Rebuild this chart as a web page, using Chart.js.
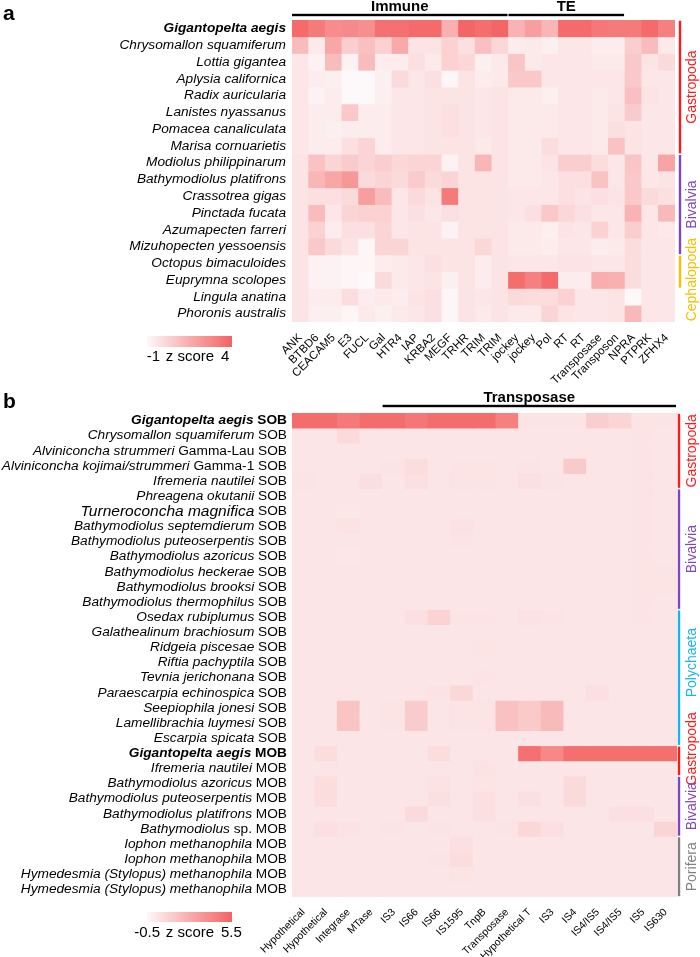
<!DOCTYPE html>
<html>
<head>
<meta charset="utf-8">
<script src="https://cdn.jsdelivr.net/npm/chart.js@4.4.1/dist/chart.umd.min.js"></script>
<style>
  html, body { margin: 0; padding: 0; background: #fff; }
  #wrap { position: relative; width: 700px; height: 957px; }
  canvas { position: absolute; left: 0; }
</style>
</head>
<body>
<div id="wrap">
  <canvas id="chartB" width="700" height="577" style="top:380px"></canvas>
  <canvas id="chartA" width="700" height="392" style="top:0"></canvas>
</div>
<script>
// ---------- panel a data ----------
const speciesA = [
  'Gigantopelta aegis', 'Chrysomallon squamiferum', 'Lottia gigantea', 'Aplysia californica',
  'Radix auricularia', 'Lanistes nyassanus', 'Pomacea canaliculata', 'Marisa cornuarietis',
  'Modiolus philippinarum', 'Bathymodiolus platifrons', 'Crassotrea gigas', 'Pinctada fucata',
  'Azumapecten farreri', 'Mizuhopecten yessoensis', 'Octopus bimaculoides', 'Euprymna scolopes',
  'Lingula anatina', 'Phoronis australis'
];
const genesA = [
  'ANK', 'BTBD6', 'CEACAM5', 'E3', 'FUCL', 'Gal', 'HTR4', 'IAP', 'KRBA2', 'MEGF', 'TRHR', 'TRIM', 'TRIM',
  'jockey', 'jockey', 'Pol', 'RT', 'RT', 'Transposase', 'Transposon', 'NPRA', 'PTPRK', 'ZFHX4'
];
const zRangeA = [-1, 4];
const zA = [
  [3.7, 3.2, 2.6, 2.7, 2.5, 3.5, 3.5, 3.7, 3.7, 1.4, 3.9, 3.6, 3.9, 1.3, 2.0, 1.2, 3.7, 3.7, 3.3, 3.2, 3.2, 3.7, 3.0],
  [1.0, -0.5, 1.7, 0.4, 0.9, 0.3, 1.6, -0.3, -0.3, 0.3, -0.2, 0.9, 0.1, -0.6, -0.5, -0.7, -0.4, -0.4, -0.6, -0.6, 0.4, 1.0, -0.5],
  [-0.4, -0.8, 1.0, -0.8, 1.0, -0.6, -0.6, -0.2, -0.5, 0.3, 0.1, -0.7, -0.5, 0.7, -0.5, -0.4, -0.4, -0.4, -0.5, -0.5, 0.6, -0.3, 0.0],
  [-0.4, -0.6, -0.7, -1.0, -1.0, -0.7, 0.0, -0.4, -0.2, -0.9, -0.3, -0.6, -0.5, 0.6, 0.6, -0.4, -0.4, -0.4, -0.4, -0.4, 0.6, -0.4, -0.4],
  [-0.4, -0.8, -0.6, -1.0, -1.0, -0.7, -0.4, -0.4, -0.3, -0.3, -0.3, -0.4, -0.3, -0.5, -0.5, -0.7, -0.4, -0.4, -0.5, -0.4, 0.9, -0.3, -0.4],
  [-0.4, -0.6, -0.6, 0.6, -0.6, -0.6, -0.4, -0.4, -0.3, -0.2, -0.3, -0.4, -0.3, -0.5, -0.5, -0.5, -0.4, -0.4, -0.5, -0.3, 0.5, -0.4, -0.4],
  [-0.4, -0.6, -0.7, -0.6, -0.6, -0.6, -0.4, -0.4, -0.3, -0.2, -0.3, -0.4, -0.3, -0.5, -0.5, -0.5, -0.4, -0.4, -0.5, -0.2, -0.3, -0.4, -0.4],
  [-0.4, -0.6, -0.6, -0.2, 0.2, -0.6, -0.4, -0.4, -0.3, -0.3, -0.3, -0.5, -0.3, -0.5, -0.5, -0.1, -0.4, -0.4, -0.5, 0.8, -0.3, -0.4, -0.4],
  [-0.3, 0.8, 0.2, 0.5, 0.2, 0.4, 0.1, 0.2, 0.2, -0.8, -0.3, 1.2, -0.3, -0.5, -0.5, -0.3, 0.4, 0.4, -0.1, -0.4, 0.7, -0.4, 1.8],
  [-0.3, 1.2, 1.7, 2.2, 0.0, 0.2, 0.0, 0.5, 0.0, 0.2, -0.3, -0.3, -0.3, -0.5, -0.5, -0.4, -0.2, -0.2, 0.8, -0.4, 0.6, -0.4, -0.3],
  [-0.3, -0.2, -0.2, 0.0, 2.0, 1.0, -0.4, 0.0, -0.3, 3.2, -0.3, -0.3, -0.3, -0.4, -0.4, -0.4, -0.2, -0.3, -0.2, -0.3, 0.6, 0.0, -0.2],
  [-0.3, 1.0, -0.4, 0.2, 0.3, 0.3, -0.4, -0.2, -0.4, -0.2, -0.3, -0.3, -0.3, -0.4, -0.2, 0.6, 0.1, -0.2, -0.4, -0.4, 1.3, -0.4, 1.1],
  [-0.3, 0.3, -0.6, -0.2, -0.2, 0.2, -0.4, -0.3, -0.3, -0.8, -0.3, -0.3, -0.3, -0.5, -0.5, -0.7, -0.3, -0.4, 0.3, -0.4, 0.4, -0.4, -0.5],
  [-0.3, 0.6, 0.0, -0.3, -0.9, 0.2, 0.2, -0.3, -0.3, -0.3, -0.3, 0.1, -0.3, -0.5, -0.5, -0.6, -0.4, -0.4, -0.6, -0.5, -0.1, -0.4, -0.4],
  [-0.3, -0.8, -0.8, -0.9, -0.9, -0.6, -0.5, -0.4, -0.2, -0.3, -0.3, -0.6, -0.3, -0.4, -0.4, -0.4, -0.3, -0.3, -0.4, -0.4, -0.1, -0.4, -0.4],
  [-0.3, -0.8, -0.8, -0.9, -1.0, 0.0, -0.5, -0.4, -0.3, -0.7, -0.3, -0.6, -0.3, 3.6, 3.0, 3.7, -0.6, -0.6, 1.5, 1.4, -0.1, -0.4, -0.4],
  [-0.3, -0.6, -0.6, -0.1, -0.6, -0.5, -0.6, -0.3, -0.2, -0.9, -0.3, -0.4, -0.3, 0.0, -0.1, -0.1, 0.3, -0.4, -0.4, -0.3, -1.0, -0.4, -0.4],
  [-0.3, -0.7, -0.7, -0.9, -0.5, -0.7, -0.5, -0.4, -0.2, -0.9, -0.3, -0.5, -0.3, -0.5, -0.5, 0.2, -0.3, -0.4, -0.4, -0.3, 1.1, -0.4, -0.4]
];
const geneGroupNamesA = ['Immune', 'TE'];
const geneGroupFirstA = [0, 13];
const geneGroupLastA = [12, 19];
const cladeNamesA = ['Gastropoda', 'Bivalvia', 'Cephalopoda'];
const cladeFirstA = [0, 8, 14];
const cladeLastA = [7, 13, 15];

// ---------- panel b data ----------
const speciesB = [
  'Gigantopelta aegis', 'Chrysomallon squamiferum', 'Alviniconcha strummeri', 'Alviniconcha kojimai/strummeri',
  'Ifremeria nautilei', 'Phreagena okutanii', 'Turneroconcha magnifica', 'Bathymodiolus septemdierum',
  'Bathymodiolus puteoserpentis', 'Bathymodiolus azoricus', 'Bathymodiolus heckerae', 'Bathymodiolus brooksi',
  'Bathymodiolus thermophilus', 'Osedax rubiplumus', 'Galathealinum brachiosum', 'Ridgeia piscesae',
  'Riftia pachyptila', 'Tevnia jerichonana', 'Paraescarpia echinospica', 'Seepiophila jonesi',
  'Lamellibrachia luymesi', 'Escarpia spicata', 'Gigantopelta aegis', 'Ifremeria nautilei',
  'Bathymodiolus azoricus', 'Bathymodiolus puteoserpentis', 'Bathymodiolus platifrons', 'Bathymodiolus',
  'Iophon methanophila', 'Iophon methanophila', 'Hymedesmia (Stylopus) methanophila', 'Hymedesmia (Stylopus) methanophila'
];
const suffixB = [
  'SOB', 'SOB', 'Gamma-Lau SOB', 'Gamma-1 SOB', 'SOB', 'SOB', 'SOB', 'SOB', 'SOB', 'SOB', 'SOB', 'SOB',
  'SOB', 'SOB', 'SOB', 'SOB', 'SOB', 'SOB', 'SOB', 'SOB', 'SOB', 'SOB', 'MOB', 'MOB', 'MOB', 'MOB',
  'MOB', 'sp. MOB', 'MOB', 'MOB', 'MOB', 'MOB'
];
const genesB = [
  'Hypothetical', 'Hypothetical', 'Integrase', 'MTase', 'IS3', 'IS66', 'IS66', 'IS1595', 'TnpB',
  'Transposase', 'Hypothetical T', 'IS3', 'IS4', 'IS4/IS5', 'IS4/IS5', 'IS5', 'IS630'
];
const zRangeB = [-0.5, 5.5];
const zB = [
  [5.1, 5.1, 4.6, 5.1, 5.1, 4.7, 5.1, 5.1, 5.1, 4.3, 0.3, 0.3, 0.3, 1.2, 0.9, 0.3, 0.3],
  [0.25, 0.25, 0.7, 0.25, 0.25, 0.25, 0.25, 0.25, 0.25, 0.25, 0.25, 0.25, 0.25, 0.25, 0.25, 0.3, 0.25],
  [0.25, 0.25, 0.25, 0.25, 0.25, 0.25, 0.25, 0.25, 0.25, 0.25, 0.25, 0.25, 0.25, 0.25, 0.25, 0.3, 0.25],
  [0.25, 0.25, 0.25, 0.25, 0.35, 0.6, 0.25, 0.3, 0.3, 0.25, 0.35, 0.25, 1.4, 0.25, 0.25, 0.35, 0.25],
  [0.35, 0.25, 0.25, 0.55, 0.25, 0.5, 0.25, 0.35, 0.35, 0.25, 0.5, 0.35, 0.25, 0.25, 0.25, 0.35, 0.25],
  [0.25, 0.25, 0.25, 0.25, 0.25, 0.25, 0.25, 0.25, 0.25, 0.25, 0.25, 0.25, 0.25, 0.25, 0.25, 0.3, 0.25],
  [0.25, 0.25, 0.2, 0.25, 0.25, 0.25, 0.25, 0.25, 0.25, 0.25, 0.25, 0.25, 0.25, 0.25, 0.25, 0.3, 0.25],
  [0.25, 0.25, 0.4, 0.25, 0.25, 0.25, 0.25, 0.4, 0.25, 0.25, 0.25, 0.25, 0.25, 0.25, 0.25, 0.35, 0.25],
  [0.25, 0.25, 0.25, 0.25, 0.25, 0.25, 0.25, 0.3, 0.25, 0.25, 0.25, 0.25, 0.25, 0.25, 0.25, 0.3, 0.25],
  [0.25, 0.25, 0.2, 0.25, 0.25, 0.25, 0.25, 0.25, 0.25, 0.25, 0.25, 0.25, 0.25, 0.25, 0.25, 0.35, 0.25],
  [0.25, 0.25, 0.25, 0.25, 0.25, 0.25, 0.25, 0.25, 0.25, 0.25, 0.25, 0.25, 0.25, 0.25, 0.25, 0.35, 0.3],
  [0.25, 0.25, 0.25, 0.25, 0.25, 0.25, 0.25, 0.25, 0.25, 0.25, 0.25, 0.25, 0.25, 0.25, 0.25, 0.35, 0.3],
  [0.25, 0.25, 0.25, 0.25, 0.25, 0.25, 0.25, 0.25, 0.25, 0.25, 0.25, 0.25, 0.25, 0.25, 0.25, 0.3, 0.25],
  [0.25, 0.25, 0.25, 0.25, 0.25, 0.45, 1.0, 0.35, 0.35, 0.25, 0.4, 0.35, 0.25, 0.25, 0.25, 0.35, 0.25],
  [0.25, 0.25, 0.25, 0.25, 0.25, 0.25, 0.25, 0.25, 0.25, 0.25, 0.25, 0.25, 0.25, 0.25, 0.25, 0.25, 0.25],
  [0.25, 0.25, 0.25, 0.25, 0.25, 0.25, 0.25, 0.25, 0.35, 0.25, 0.25, 0.25, 0.25, 0.25, 0.25, 0.25, 0.25],
  [0.25, 0.25, 0.25, 0.25, 0.25, 0.25, 0.25, 0.25, 0.25, 0.25, 0.25, 0.25, 0.25, 0.25, 0.25, 0.25, 0.25],
  [0.25, 0.25, 0.25, 0.25, 0.25, 0.25, 0.25, 0.25, 0.3, 0.25, 0.25, 0.25, 0.25, 0.25, 0.25, 0.25, 0.25],
  [0.25, 0.25, 0.25, 0.25, 0.25, 0.25, 0.4, 0.8, 0.25, 0.25, 0.25, 0.25, 0.25, 0.45, 0.25, 0.25, 0.25],
  [0.25, 0.25, 1.6, 0.25, 0.35, 1.3, 0.25, 0.35, 0.35, 1.7, 1.4, 2.0, 0.25, 0.25, 0.25, 0.25, 0.25],
  [0.25, 0.25, 1.6, 0.25, 0.35, 1.3, 0.25, 0.35, 0.35, 1.7, 1.4, 2.0, 0.25, 0.25, 0.25, 0.25, 0.25],
  [0.25, 0.25, 0.25, 0.25, 0.25, 0.25, 0.25, 0.25, 0.25, 0.25, 0.25, 0.25, 0.25, 0.25, 0.25, 0.25, 0.25],
  [0.25, 0.6, 0.25, 0.25, 0.25, 0.25, 0.6, 0.25, 0.25, 0.25, 4.9, 4.0, 5.0, 5.0, 5.0, 5.0, 5.0],
  [0.25, 0.25, 0.25, 0.25, 0.25, 0.25, 0.25, 0.25, 0.4, 0.25, 0.25, 0.25, 0.25, 0.25, 0.25, 0.25, 0.25],
  [0.25, 0.6, 0.25, 0.25, 0.25, 0.25, 0.4, 0.25, 0.35, 0.25, 0.25, 0.25, 0.7, 0.25, 0.25, 0.25, 0.25],
  [0.25, 0.6, 0.25, 0.25, 0.25, 0.25, 0.45, 0.25, 0.45, 0.25, 0.45, 0.25, 0.7, 0.25, 0.25, 0.25, 0.25],
  [0.25, 0.25, 0.25, 0.25, 0.25, 0.7, 0.25, 0.25, 0.45, 0.25, 0.25, 0.25, 0.25, 0.25, 0.45, 0.45, 0.25],
  [0.25, 0.5, 0.4, 0.25, 0.35, 0.25, 0.3, 0.25, 0.25, 0.35, 0.8, 0.5, 0.25, 0.25, 0.25, 0.25, 0.9],
  [0.25, 0.25, 0.25, 0.25, 0.25, 0.25, 0.25, 0.5, 0.25, 0.25, 0.25, 0.25, 0.25, 0.25, 0.25, 0.25, 0.25],
  [0.25, 0.25, 0.25, 0.25, 0.25, 0.25, 0.35, 0.6, 0.25, 0.25, 0.25, 0.25, 0.25, 0.25, 0.25, 0.25, 0.25],
  [0.25, 0.25, 0.25, 0.25, 0.25, 0.25, 0.25, 0.35, 0.25, 0.25, 0.25, 0.25, 0.25, 0.25, 0.25, 0.25, 0.25],
  [0.25, 0.25, 0.25, 0.25, 0.25, 0.25, 0.25, 0.25, 0.25, 0.25, 0.25, 0.25, 0.25, 0.25, 0.25, 0.25, 0.25]
];
const geneGroupNamesB = ['Transposase'];
const geneGroupFirstB = [4];
const geneGroupLastB = [16];
const cladeNamesB = ['Gastropoda', 'Bivalvia', 'Polychaeta', 'Gastropoda', 'Bivalvia', 'Porifera'];
const cladeFirstB = [0, 5, 13, 22, 24, 28];
const cladeLastB = [4, 12, 21, 23, 27, 31];

// ---------- styling ----------
const FONT = "'Liberation Sans', Arial, Helvetica, sans-serif";
const LO = [253, 248, 249];
const HI = [244, 98, 98];
const cladeColor = {
  Gastropoda: '#ff1a1a',
  Bivalvia: '#7f47b8',
  Cephalopoda: '#f5c000',
  Polychaeta: '#1ab2ec',
  Porifera: '#808080'
};

function heat(v, range) {
  let t = (v - range[0]) / (range[1] - range[0]);
  t = Math.max(0, Math.min(1, t));
  const c = LO.map((l, i) => Math.round(l + (HI[i] - l) * t));
  return 'rgb(' + c.join(',') + ')';
}

function rowLabel(ctx, italicPart, plainPart, right, yc, bold, size, italicSize) {
  const w = bold ? 'bold ' : '';
  ctx.fillStyle = '#000';
  ctx.textBaseline = 'middle';
  ctx.textAlign = 'right';
  let x = right;
  if (plainPart) {
    ctx.font = w + size + 'px ' + FONT;
    ctx.fillText(plainPart, x, yc);
    x -= ctx.measureText(' ' + plainPart).width;
  }
  ctx.font = 'italic ' + w + (italicSize || size) + 'px ' + FONT;
  ctx.fillText(italicPart, x, yc);
}

function drawGeneGroups(chart, names, first, last, lineY, textY, size) {
  const ctx = chart.ctx, x = chart.scales.x;
  const half = (x.getPixelForValue(1) - x.getPixelForValue(0)) / 2;
  names.forEach((name, i) => {
    const x0 = x.getPixelForValue(first[i]) - half;
    const x1 = x.getPixelForValue(last[i]) + half - 1;
    ctx.fillStyle = '#000';
    ctx.fillRect(x0, lineY - 1.2, x1 - x0, 2.4);
    ctx.font = 'bold ' + size + 'px ' + FONT;
    ctx.textAlign = 'center';
    ctx.textBaseline = 'alphabetic';
    ctx.fillText(name, (x0 + x1) / 2, textY);
  });
}

function drawClades(chart, names, first, last, barX, textX, shifts) {
  const ctx = chart.ctx, y = chart.scales.y;
  names.forEach((name, i) => {
    const y0 = y.getPixelForValue(first[i]) + 0.8;
    const y1 = y.getPixelForValue(last[i] + 1) - 0.8;
    ctx.fillStyle = cladeColor[name];
    ctx.fillRect(barX - 1.2, y0, 2.4, y1 - y0);
    ctx.save();
    ctx.translate(textX, (y0 + y1) / 2 + (shifts[i] || 0));
    ctx.rotate(-Math.PI / 2);
    ctx.font = '14px ' + FONT;
    ctx.textAlign = 'center';
    ctx.textBaseline = 'middle';
    ctx.fillText(name, 0, 0);
    ctx.restore();
  });
}

function drawZLegend(ctx, range, x0, x1, yTop, h, textY) {
  const g = ctx.createLinearGradient(x0, 0, x1, 0);
  g.addColorStop(0, heat(range[0], range));
  g.addColorStop(1, heat(range[1], range));
  ctx.fillStyle = g;
  ctx.fillRect(x0, yTop, x1 - x0, h);
  ctx.fillStyle = '#000';
  ctx.font = '15px ' + FONT;
  ctx.textBaseline = 'middle';
  ctx.textAlign = 'center';
  ctx.fillText('z score', 190, textY);
  ctx.textAlign = 'right';
  ctx.fillText(String(range[0]), 160, textY);
  ctx.textAlign = 'left';
  ctx.fillText(String(range[1]), 221, textY);
}

function panelLetter(ctx, letter, x, y) {
  ctx.fillStyle = '#000';
  ctx.font = 'bold 21px ' + FONT;
  ctx.textAlign = 'left';
  ctx.textBaseline = 'alphabetic';
  ctx.fillText(letter, x, y);
}

const decoA = {
  id: 'decoA',
  afterDraw(chart) {
    const ctx = chart.ctx, y = chart.scales.y;
    ctx.save();
    speciesA.forEach((name, i) => {
      rowLabel(ctx, name, '', 286, y.getPixelForValue(i + 0.5), name === 'Gigantopelta aegis', 13.7);
    });
    drawGeneGroups(chart, geneGroupNamesA, geneGroupFirstA, geneGroupLastA, 15, 11, 15);
    drawClades(chart, cladeNamesA, cladeFirstA, cladeLastA, 680, 692, [0, 0, 8]);
    drawZLegend(ctx, zRangeA, 147, 232, 336, 11, 357);
    panelLetter(ctx, 'a', 3, 20);
    ctx.restore();
  }
};

const decoB = {
  id: 'decoB',
  afterDraw(chart) {
    const ctx = chart.ctx, y = chart.scales.y;
    ctx.save();
    speciesB.forEach((name, i) => {
      const big = name.indexOf('Turneroconcha') === 0 ? 15.5 : null;
      rowLabel(ctx, name, suffixB[i], 287, y.getPixelForValue(i + 0.5), name === 'Gigantopelta aegis', 13.7, big);
    });
    drawGeneGroups(chart, geneGroupNamesB, geneGroupFirstB, geneGroupLastB, 26, 22, 15);
    drawClades(chart, cladeNamesB, cladeFirstB, cladeLastB, 679, 692, [0, 0, -15, -12, 0, 0]);
    drawZLegend(ctx, zRangeB, 147, 232, 532, 10, 553);
    panelLetter(ctx, 'b', 3, 28);
    ctx.restore();
  }
};

function heatmap(canvasId, cols, z, range, padding, axisHeight, tickSize, deco) {
  const datasets = z.map(row => ({
    data: cols.map(() => 1),
    backgroundColor: row.map(v => heat(v, range)),
    borderWidth: 0,
    barPercentage: 1,
    categoryPercentage: 1
  }));
  return new Chart(document.getElementById(canvasId), {
    type: 'bar',
    data: { labels: cols, datasets },
    options: {
      responsive: false,
      animation: false,
      events: [],
      layout: { padding },
      plugins: { legend: { display: false }, tooltip: { enabled: false } },
      scales: {
        x: {
          stacked: true,
          grid: { display: false },
          border: { display: false },
          ticks: {
            autoSkip: false,
            minRotation: 45,
            maxRotation: 45,
            padding: 1,
            color: '#000',
            font: { family: FONT, size: tickSize }
          },
          afterFit: s => { s.height = axisHeight; }
        },
        y: { stacked: true, reverse: true, min: 0, max: z.length, display: false }
      }
    },
    plugins: [deco]
  });
}

// panel a canvas is 12px taller than its slot so long rotated labels are not clipped
heatmap('chartA', genesA, zA, zRangeA, { left: 292, right: 25, top: 20, bottom: 0 }, 70, 11.5, decoA);
heatmap('chartB', genesB, zB, zRangeB, { left: 292, right: 23, top: 33, bottom: 0 }, 60, 10.5, decoB);
</script>
</body>
</html>
